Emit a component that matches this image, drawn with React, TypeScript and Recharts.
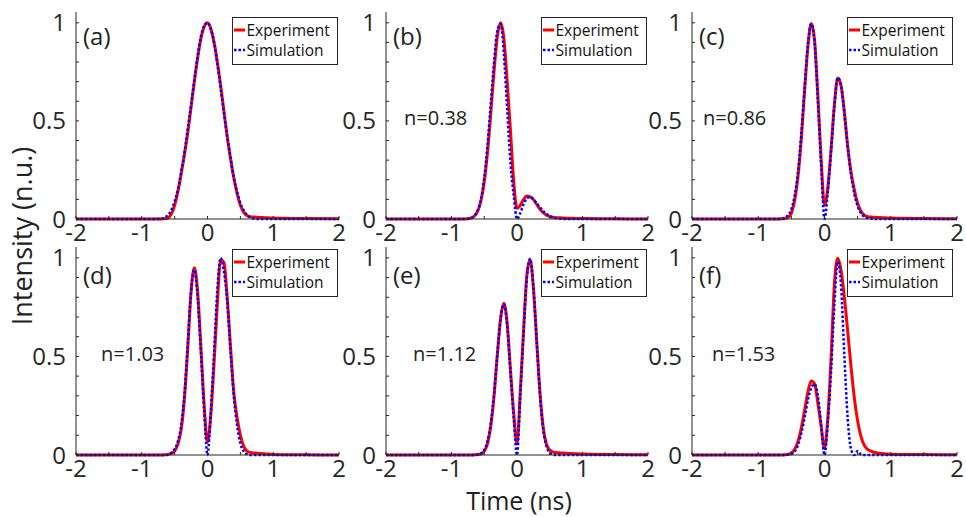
import React from 'react';
import { LineChart, Line, XAxis, YAxis } from 'recharts';

// time grid (ns), shared by every panel
const times = [
  -2, -1.5, -1, -0.8, -0.7, -0.65, -0.6, -0.55, -0.5, -0.45, -0.4, -0.35, -0.3, -0.25, -0.2, -0.15, -0.1, -0.05,
  0, 0.05, 0.1, 0.15, 0.2, 0.25, 0.3, 0.35, 0.4, 0.45, 0.5, 0.55, 0.6, 0.65, 0.7, 0.8, 0.9, 1, 1.5, 2,
];

// (a) input pulse
const expA = [0, 0, 0, 0, 0, 0.002, 0.006, 0.025, 0.07, 0.14, 0.23, 0.33, 0.44, 0.57, 0.7, 0.82, 0.92, 0.98,
  1.0, 0.97, 0.9, 0.8, 0.68, 0.55, 0.42, 0.31, 0.21, 0.13, 0.07, 0.035, 0.018, 0.012, 0.01, 0.008, 0.006, 0.005, 0.002, 0.001];
const simA = [0, 0, 0, 0, 0.002, 0.008, 0.02, 0.045, 0.09, 0.15, 0.24, 0.34, 0.46, 0.58, 0.71, 0.83, 0.93, 0.985,
  1.0, 0.97, 0.9, 0.79, 0.67, 0.54, 0.42, 0.31, 0.21, 0.14, 0.08, 0.045, 0.02, 0.008, 0.002, 0, 0, 0, 0, 0];

// (b) n=0.38
const expB = [0, 0, 0, 0, 0.005, 0.015, 0.04, 0.093, 0.19, 0.34, 0.54, 0.755, 0.93, 1.0, 0.92, 0.7, 0.45, 0.19,
  0.055, 0.07, 0.1, 0.117, 0.113, 0.1, 0.075, 0.05, 0.032, 0.02, 0.013, 0.009, 0.007, 0.006, 0.005, 0.004, 0.003, 0.002, 0.001, 0];
const simB = [0, 0, 0, 0, 0.005, 0.016, 0.044, 0.1, 0.21, 0.377, 0.59, 0.8, 0.96, 0.995, 0.84, 0.56, 0.29, 0.12,
  0, 0.03, 0.075, 0.105, 0.112, 0.1, 0.08, 0.06, 0.04, 0.025, 0.015, 0.008, 0.004, 0.002, 0, 0, 0, 0, 0, 0];

// (c) n=0.86
const expC = [0, 0, 0, 0, 0, 0.001, 0.003, 0.008, 0.03, 0.095, 0.216, 0.41, 0.657, 0.88, 0.997, 0.91, 0.626, 0.3,
  0.07, 0.16, 0.36, 0.585, 0.718, 0.68, 0.543, 0.37, 0.24, 0.15, 0.08, 0.04, 0.02, 0.012, 0.01, 0.008, 0.006, 0.005, 0.002, 0.001];
const simC = [0, 0, 0, 0, 0, 0.002, 0.006, 0.02, 0.05, 0.12, 0.24, 0.43, 0.67, 0.89, 0.995, 0.9, 0.61, 0.27,
  0, 0.14, 0.35, 0.58, 0.72, 0.68, 0.54, 0.37, 0.23, 0.13, 0.065, 0.03, 0.012, 0.005, 0.002, 0, 0, 0, 0, 0];

// (d) n=1.03
const expD = [0, 0, 0, 0, 0, 0.001, 0.003, 0.008, 0.02, 0.055, 0.13, 0.29, 0.545, 0.827, 0.95, 0.827, 0.545, 0.25,
  0.065, 0.2, 0.465, 0.77, 0.99, 0.975, 0.8, 0.55, 0.318, 0.19, 0.1, 0.045, 0.02, 0.013, 0.01, 0.008, 0.005, 0.003, 0.001, 0];
const simD = [0, 0, 0, 0, 0, 0, 0.002, 0.01, 0.03, 0.07, 0.15, 0.31, 0.56, 0.83, 0.94, 0.8, 0.52, 0.22,
  0, 0.22, 0.52, 0.84, 1.0, 0.93, 0.78, 0.53, 0.3, 0.15, 0.06, 0.018, 0.004, 0, 0, 0, 0, 0, 0, 0];

// (e) n=1.12
const expE = [0, 0, 0, 0, 0, 0.001, 0.002, 0.006, 0.019, 0.058, 0.148, 0.3, 0.51, 0.695, 0.77, 0.667, 0.433, 0.21,
  0.058, 0.32, 0.63, 0.91, 0.99, 0.85, 0.584, 0.32, 0.141, 0.055, 0.025, 0.015, 0.012, 0.011, 0.01, 0.008, 0.006, 0.005, 0.002, 0.001];
const simE = [0, 0, 0, 0, 0, 0, 0.002, 0.008, 0.025, 0.07, 0.16, 0.31, 0.51, 0.69, 0.765, 0.66, 0.42, 0.19,
  0, 0.3, 0.62, 0.9, 0.995, 0.85, 0.58, 0.31, 0.13, 0.045, 0.012, 0.002, 0, 0, 0, 0, 0, 0, 0, 0];

// (f) n=1.53
const expF = [0, 0, 0, 0, 0, 0, 0.001, 0.003, 0.01, 0.029, 0.069, 0.137, 0.228, 0.32, 0.375, 0.36, 0.263, 0.144,
  0.035, 0.188, 0.5, 0.87, 0.998, 0.937, 0.8, 0.628, 0.449, 0.29, 0.174, 0.095, 0.05, 0.028, 0.02, 0.01, 0.006, 0.004, 0.002, 0.001];
const simF = [0, 0, 0, 0, 0, 0, 0, 0.002, 0.005, 0.018, 0.05, 0.11, 0.19, 0.28, 0.34, 0.36, 0.3, 0.15,
  0, 0.167, 0.43, 0.77, 0.98, 0.86, 0.5, 0.186, 0.03, 0, 0.02, 0.003, 0, 0, 0, 0, 0, 0, 0, 0];

const panelTags = ['(a)', '(b)', '(c)', '(d)', '(e)', '(f)'];
const panelNotes = ['', 'n=0.38', 'n=0.86', 'n=1.03', 'n=1.12', 'n=1.53'];
const seriesNames = ['Experiment', 'Simulation'];

const xTicks = [-2, -1.5, -1, -0.5, 0, 0.5, 1, 1.5, 2];
const xTickLabels = [-2, -1, 0, 1, 2];
const yTicks = [0, 0.1, 0.2, 0.3, 0.4, 0.5, 0.6, 0.7, 0.8, 0.9, 1];
const yTickLabels = [0, 0.5, 1];

const expSeries = [expA, expB, expC, expD, expE, expF];
const simSeries = [simA, simB, simC, simD, simE, simF];

// layout (pixels)
const colLeft = [76, 386, 692];
const colWidth = [263, 262, 265];
const rowTop = [12, 247];
const rowHeight = [207, 208];
const legendLeft = [232, 541, 847];
const legendTop = [17, 249];
const tagBase = [45, 284];
const noteBase = [125, 361];
const noteLeft = [[0, 404, 703], [101, 413, 712]];

const FONT = '"Open Sans", "DejaVu Sans", sans-serif';
const AXIS = '#262626';
const RED = '#ff0000';
const BLUE = '#0000ff';

const fmtX = (v: number) => (xTickLabels.includes(v) ? String(v) : '');
const fmtY = (v: number) => (yTickLabels.some((l) => Math.abs(l - v) < 1e-9) ? String(v) : '');
const blank = () => '';

const ML = 64;
const MT = 6;
const MR = 14;
const MB = 40;

const Panel = ({ idx }: { idx: number }) => {
  const r = Math.floor(idx / 3);
  const c = idx % 3;
  const w = colWidth[c];
  const h = rowHeight[r];
  const data = times.map((t, i) => ({ t, exp: expSeries[idx][i], sim: simSeries[idx][i] }));
  const tickStyle = { fill: AXIS, fontSize: 24, fontFamily: FONT };
  return (
    <div style={{ position: 'absolute', left: colLeft[c] - ML, top: rowTop[r] - MT }}>
      <LineChart width={ML + w + MR} height={MT + h + MB} data={data} margin={{ top: MT, right: MR, bottom: 0, left: 0 }}>
        <XAxis xAxisId="b" dataKey="t" type="number" domain={[-2, 2]} ticks={xTicks} interval={0}
          height={MB} tickSize={-3} tickMargin={8} tickFormatter={fmtX} tick={tickStyle} stroke={AXIS} />
        <XAxis xAxisId="t" orientation="top" dataKey="t" type="number" domain={[-2, 2]} ticks={xTicks} interval={0}
          height={0} tickSize={-3} tickFormatter={blank} stroke={AXIS} />
        <YAxis yAxisId="l" type="number" domain={[0, 1.055]} ticks={yTicks} interval={0}
          width={ML} tickSize={-3} tickMargin={13} tickFormatter={fmtY} tick={tickStyle} stroke={AXIS} />
        <YAxis yAxisId="r" orientation="right" type="number" domain={[0, 1.055]} ticks={yTicks} interval={0}
          width={0} tickSize={-3} tickFormatter={blank} stroke={AXIS} />
        <Line xAxisId="b" yAxisId="l" dataKey="exp" type="monotone" stroke={RED} strokeWidth={3}
          dot={false} activeDot={false} isAnimationActive={false} />
        <Line xAxisId="b" yAxisId="l" dataKey="sim" type="monotone" stroke={BLUE} strokeWidth={2.5}
          strokeDasharray="2.5 2" dot={false} activeDot={false} isAnimationActive={false} />
      </LineChart>
    </div>
  );
};

const Overlay = () => (
  <svg width={966} height={517} style={{ position: 'absolute', left: 0, top: 0, pointerEvents: 'none' }}>
    {panelTags.map((tag, idx) => {
      const r = Math.floor(idx / 3);
      const c = idx % 3;
      const lx = legendLeft[c];
      const ly = legendTop[r];
      return (
        <g key={tag} fontFamily={FONT}>
          <text x={colLeft[c] + 7} y={tagBase[r]} fontSize={24} fill="#222">{tag}</text>
          {panelNotes[idx] && (
            <text x={noteLeft[r][c]} y={noteBase[r]} fontSize={20} fill="#222">{panelNotes[idx]}</text>
          )}
          <rect x={lx + 0.5} y={ly + 0.5} width={105} height={47} fill="#fff" stroke={AXIS} strokeWidth={1} />
          <line x1={lx + 2} x2={lx + 13} y1={ly + 13} y2={ly + 13} stroke={RED} strokeWidth={3} />
          <line x1={lx + 2} x2={lx + 13} y1={ly + 33} y2={ly + 33} stroke={BLUE} strokeWidth={2.5} strokeDasharray="2.5 2" />
          <text x={lx + 14.5} y={ly + 18.5} fontSize={15.5} fill="#111">{seriesNames[0]}</text>
          <text x={lx + 14.5} y={ly + 38.5} fontSize={15.5} fill="#111">{seriesNames[1]}</text>
        </g>
      );
    })}
    <text x={519} y={510} fontSize={25} fontFamily={FONT} textAnchor="middle" fill="#222">Time (ns)</text>
    <text transform="translate(32,236) rotate(-90)" fontSize={27} fontFamily={FONT} textAnchor="middle" fill="#222">
      Intensity (n.u.)
    </text>
  </svg>
);

export default function App() {
  return (
    <div style={{ position: 'absolute', left: 0, top: 0, width: 966, height: 517, background: '#fff', overflow: 'hidden' }}>
      {[0, 1, 2, 3, 4, 5].map((i) => (
        <Panel key={i} idx={i} />
      ))}
      <Overlay />
    </div>
  );
}
